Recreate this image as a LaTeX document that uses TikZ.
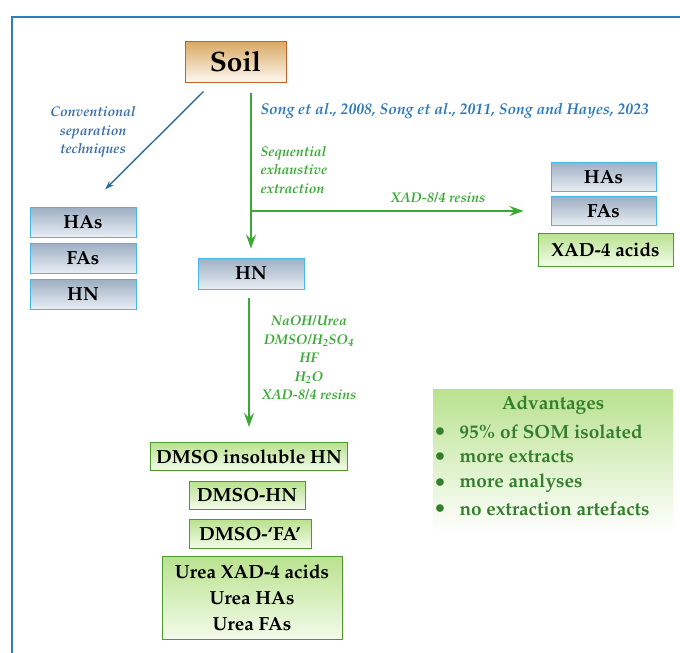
\documentclass[tikz,border=0pt]{standalone}
\usepackage[T1]{fontenc}
\usepackage{mathpazo}
\usetikzlibrary{arrows.meta}

\definecolor{framec}{HTML}{2C7FB8}
\definecolor{soiltop}{HTML}{D9A862}
\definecolor{soilbot}{HTML}{FDF8F0}
\definecolor{soiledge}{HTML}{C8602A}
\definecolor{graytop}{HTML}{9DAEC2}
\definecolor{graybot}{HTML}{E8EEF4}
\definecolor{grayedge}{HTML}{42B9EA}
\definecolor{greentop}{HTML}{B9E28E}
\definecolor{greenbot}{HTML}{F3FBEA}
\definecolor{greenedge}{HTML}{4F9A2F}
\definecolor{linegreen}{HTML}{3AAA35}
\definecolor{lineblue}{HTML}{2B6E96}
\definecolor{refblue}{HTML}{2A7AC0}
\definecolor{convblue}{HTML}{3B6EA8}
\definecolor{advgreen}{HTML}{357F2C}

\begin{document}
\begin{tikzpicture}[x=1pt,y=-1pt,
    soilbox/.style={draw=soiledge,line width=1pt,top color=soiltop,bottom color=soilbot,
        minimum width=101pt,minimum height=41pt,font=\fontsize{28}{30}\selectfont\bfseries},
    graybox/.style={draw=grayedge,line width=1pt,top color=graytop,bottom color=graybot,
        minimum width=106pt,minimum height=30pt,font=\fontsize{19}{21}\selectfont\bfseries},
    greenbox/.style={draw=greenedge,line width=1pt,top color=greentop,bottom color=greenbot,
        minimum height=28pt,font=\fontsize{19}{26}\selectfont\bfseries},
    garrow/.style={draw=linegreen,line width=1.4pt,-{Stealth[length=14pt,width=10pt,inset=5pt]}},
    barrow/.style={draw=lineblue,line width=1.4pt,-{Stealth[length=9pt,width=6pt]}},
    lbl/.style={font=\fontsize{14}{18.5}\selectfont\fontseries{b}\itshape,align=center}]

    \useasboundingbox (0,0) rectangle (680,653);
    \draw[framec,line width=2pt] (12,17) rectangle (700,680);

    \node[soilbox] (soil) at (235.5,61.5) {Soil};

    \node[graybox] (lha) at (83,222) {HAs};
    \node[graybox] (lfa) at (83,258) {FAs};
    \node[graybox] (lhn) at (83,294) {HN};

    \node[graybox,minimum height=31pt] (hn) at (251,273.5) {HN};

    \node[graybox,minimum width=105pt,minimum height=29pt] (rha) at (603.5,176.5) {HAs};
    \node[graybox,minimum width=105pt,minimum height=29pt] (rfa) at (603.5,211) {FAs};
    \node[greenbox,minimum width=135pt,minimum height=33pt] (xad) at (605.5,249.5) {XAD-4 acids};

    \node[greenbox,minimum width=197pt] (insol) at (249,456.5) {DMSO insoluble HN};
    \node[greenbox,minimum width=116pt] (dhn) at (247,495) {DMSO-HN};
    \node[greenbox,minimum width=122pt,minimum height=29pt] (dfa) at (250,534) {DMSO-`FA'};
    \node[greenbox,minimum width=180pt,minimum height=83pt,align=center] (urea) at (252,597.5)
        {Urea XAD-4 acids\\Urea HAs\\Urea FAs};

    \node[top color=greentop,bottom color=white,minimum width=240pt,minimum height=144pt] (adv) at (553,461) {};
    \node[font=\fontsize{19}{21}\selectfont\bfseries,text=advgreen] (advt) at (553,405) {Advantages};
    \foreach \y/\t [count=\i] in {432/95\% of SOM isolated,457/more extracts,483/more analyses,509/no extraction artefacts} {
        \node[text=advgreen,font=\fontsize{19}{21}\selectfont] (dot\i) at (440,\y) {$\bullet$};
        \node[anchor=west,font=\fontsize{19}{21}\selectfont\bfseries,text=advgreen] (item\i) at (456,\y) {\t};
    }

    \draw[barrow] ([xshift=-32pt,yshift=-9pt]soil.south) -- ([xshift=22pt,yshift=17pt]lha.north);
    \node[lbl,text=convblue] (conv) at (93,132) {Conventional\\separation\\techniques};

    \draw[garrow] ([yshift=-10pt]soil.south -| hn.north) -- ([yshift=9pt]hn.north);
    \draw[garrow,shorten >=27pt] (hn.north |- rfa.west) -- (rfa.west);
    \node[lbl,text=refblue,anchor=west,font=\fontsize{15.6}{17}\selectfont\fontseries{b}\itshape] (refs) at (257,111)
        {Song et al., 2008, Song et al., 2011, Song and Hayes, 2023};
    \node[lbl,text=linegreen,anchor=west,align=left] (seq) at (257,170) {Sequential\\exhaustive\\extraction};
    \node[lbl,text=linegreen] (xadr) at (438,198) {XAD-8/4 resins};

    \draw[garrow] ([xshift=-2pt,yshift=-8pt]hn.south) -- ([yshift=15pt]insol.north);
    \node[lbl,text=linegreen] (chem) at (309,358)
        {NaOH/Urea\\DMSO/H\textsubscript{2}SO\textsubscript{4}\\HF\\H\textsubscript{2}O\\XAD-8/4 resins};

\end{tikzpicture}
\end{document}
